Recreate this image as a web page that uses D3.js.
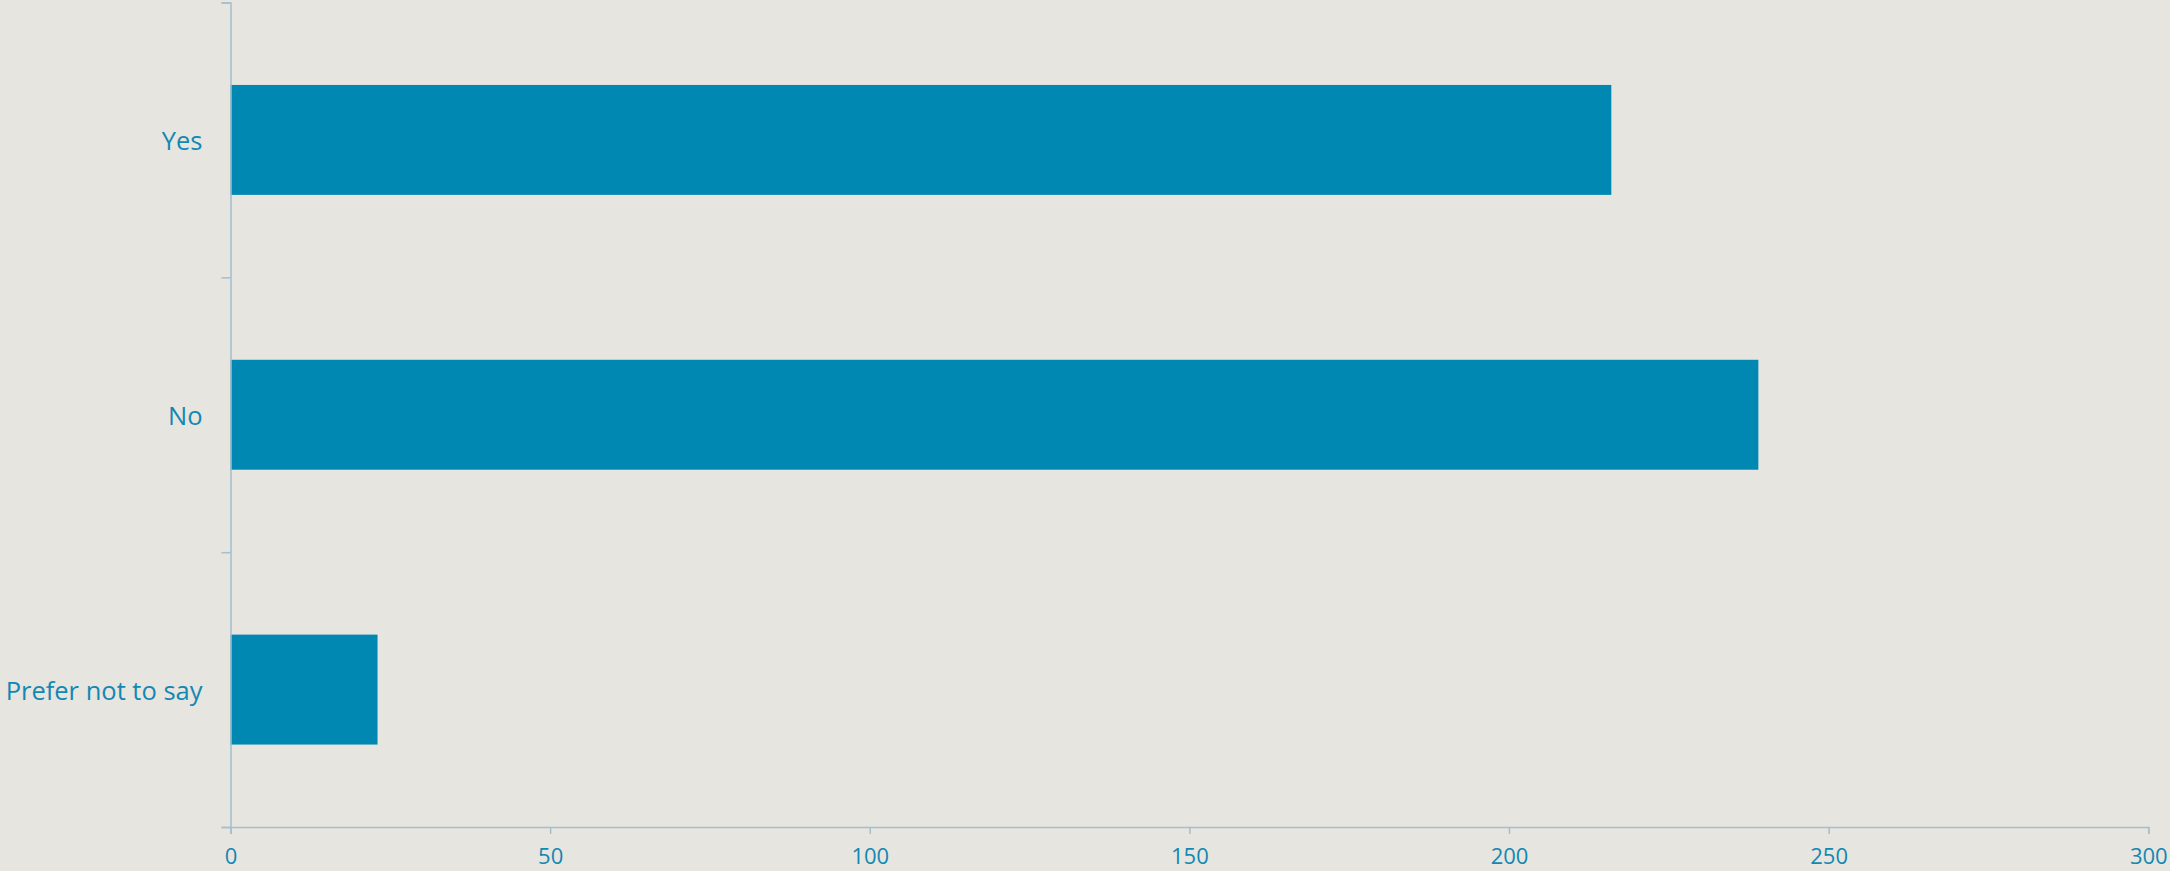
<!DOCTYPE html>
<html>
<head>
<meta charset="utf-8">
<script src="https://cdn.jsdelivr.net/npm/d3@7"></script>
<style>
	html, body { margin: 0; padding: 0; background: #e7e5e0; overflow: hidden; }
	svg { display: block; }
	.axis text { fill: #1288b3; font-family: 'Open Sans', sans-serif; }
	.axis path, .axis line { stroke: #a3bfce; stroke-width: 1.5; }
</style>
</head>
<body>
<svg class="display"></svg>
<script>
	// data
	const categories = ['Yes', 'No', 'Prefer not to say'];
	const counts = [216, 239, 23];
	const xTicks = [0, 50, 100, 150, 200, 250, 300];

	const totalWidth = 2170,
		totalHeight = 871,
		plot = { left: 230.5, right: 2148.3, top: 2.5, bottom: 827 };

	const svg = d3
		.select('.display')
		.attr('width', totalWidth)
		.attr('height', totalHeight);

	const xScale = d3.scaleLinear().domain([0, 300]).range([plot.left, plot.right]);

	const yScale = d3
		.scaleBand()
		.domain(categories)
		.range([plot.top, plot.bottom])
		.paddingInner(0.6)
		.paddingOuter(0.3);

	// boundary ticks between categories
	const yEdge = d3
		.scaleLinear()
		.domain([0, categories.length])
		.range([plot.top, plot.bottom]);

	//bars
	svg
		.append('g')
		.selectAll('rect')
		.data(categories)
		.enter()
		.append('rect')
		.attr('x', xScale(0))
		.attr('y', (d) => yScale(d))
		.attr('width', (d, i) => xScale(counts[i]) - xScale(0))
		.attr('height', yScale.bandwidth())
		.style('fill', '#0088b3');

	//x axis
	svg
		.append('g')
		.attr('class', 'axis')
		.attr('transform', 'translate(0,' + plot.bottom + ')')
		.call(d3.axisBottom(xScale).tickValues(xTicks).tickSize(7).tickPadding(14))
		.selectAll('text')
		.style('font-size', '22px');

	//y axis edge ticks
	svg
		.append('g')
		.attr('class', 'axis')
		.attr('transform', 'translate(' + plot.left + ',0)')
		.call(
			d3
				.axisLeft(yEdge)
				.tickValues(d3.range(categories.length + 1))
				.tickFormat('')
				.tickSize(9)
		);

	//y axis labels
	const yLabels = svg
		.append('g')
		.attr('class', 'axis')
		.attr('transform', 'translate(' + plot.left + ',0)')
		.call(d3.axisLeft(yScale).tickSize(0).tickPadding(28));
	yLabels.select('.domain').remove();
	yLabels.selectAll('text').style('font-size', '25.5px').attr('dy', '0.4em');
</script>
</body>
</html>
